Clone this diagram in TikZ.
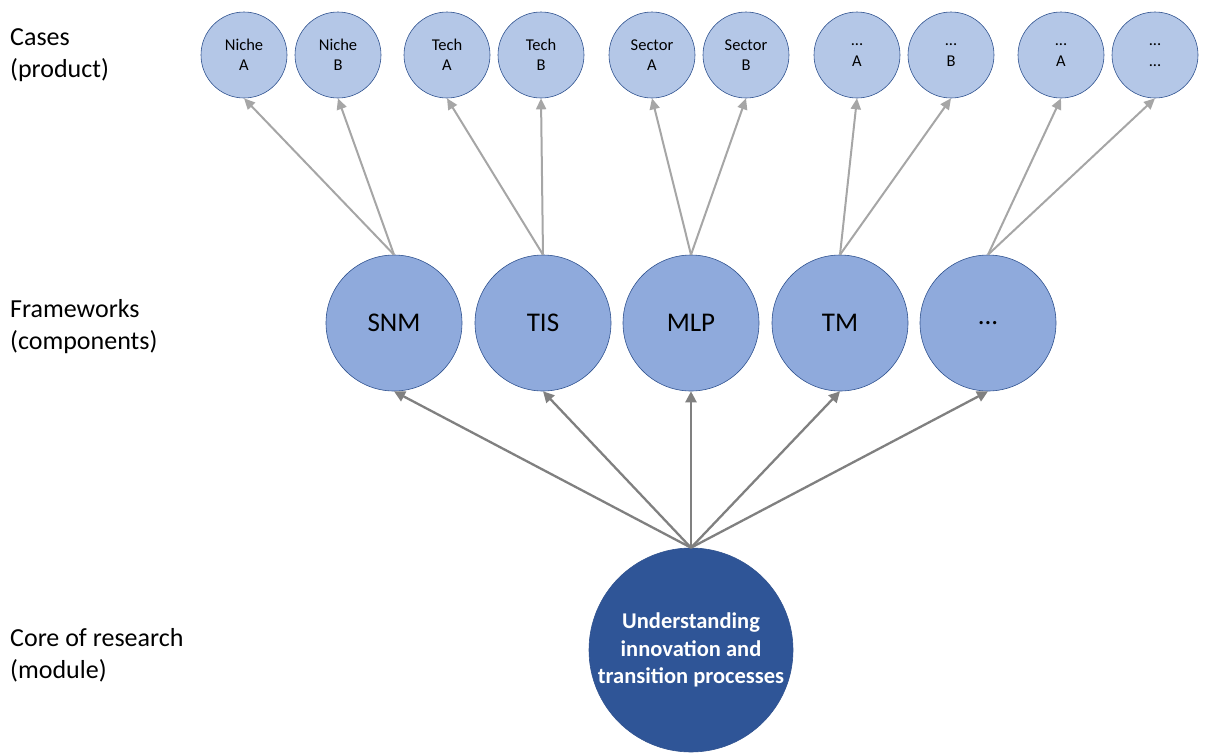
\documentclass[tikz,border=0pt]{standalone}
\usepackage{fontspec}
\setmainfont{Carlito}
\usetikzlibrary{arrows.meta}
\definecolor{caseblue}{HTML}{B4C7E7}
\definecolor{fwblue}{HTML}{8FAADC}
\definecolor{coreblue}{HTML}{2F5597}
\definecolor{rimblue}{HTML}{2F528F}
\definecolor{lightarrow}{HTML}{A6A6A6}
\definecolor{darkarrow}{HTML}{808080}
\begin{document}
\begin{tikzpicture}[x=1pt,y=-1pt,
  casenode/.style={circle,draw=rimblue,line width=0.6pt,fill=caseblue,
    minimum size=86pt,inner sep=0pt,align=center,
    font=\fontsize{16.5}{20.5}\selectfont},
  fwnode/.style={circle,draw=rimblue,line width=0.6pt,fill=fwblue,
    minimum size=136pt,inner sep=0pt,align=center,
    font=\fontsize{27}{32}\selectfont},
  corenode/.style={circle,draw=rimblue,line width=0.6pt,fill=coreblue,
    minimum size=204pt,inner sep=0pt,align=center,text=white,
    font=\fontsize{22.5}{27.5}\selectfont\bfseries},
  levellabel/.style={anchor=west,align=left,inner sep=0pt,
    font=\fontsize{26}{32}\selectfont},
  uparrow/.style={draw=lightarrow,line width=2pt,
    -{Triangle[length=11pt,width=10pt]}},
  fwarrow/.style={draw=darkarrow,line width=2.3pt,
    -{Triangle[length=11pt,width=11pt]}}]
\useasboundingbox (0,0) rectangle (1205,753);

% level labels
\node[levellabel] (lcases) at (10,55) {Cases\\(product)};
\node[levellabel] (lfw) at (10,327) {Frameworks\\(components)};
\node[levellabel] (lcore) at (10,655) {Core of research\\(module)};

% core module
\node[corenode] (core) at (691,650) {Understanding\\innovation and\\transition processes};

% frameworks
\node[fwnode] (snm) at (394,323) {SNM};
\node[fwnode] (tis) at (543,323) {TIS};
\node[fwnode] (mlp) at (691,323) {MLP};
\node[fwnode] (tm)  at (840,323) {TM};
\node[fwnode] (fwx) at (988,323) {...};

% cases
\node[casenode] (nicheA)  at (244,55)  {Niche\\A};
\node[casenode] (nicheB)  at (338,55)  {Niche\\B};
\node[casenode] (techA)   at (447,55)  {Tech\\A};
\node[casenode] (techB)   at (541,55)  {Tech\\B};
\node[casenode] (sectorA) at (652,55)  {Sector\\A};
\node[casenode] (sectorB) at (746,55)  {Sector\\B};
\node[casenode] (tmA)     at (857,55)  {...\\A};
\node[casenode] (tmB)     at (951,55)  {...\\B};
\node[casenode] (xA)      at (1061,55) {...\\A};
\node[casenode] (xB)      at (1155,55) {...\\...};

% core -> frameworks
\foreach \f in {snm,tis,mlp,tm,fwx}
  \draw[fwarrow] (core.north) -- (\f.south);

% frameworks -> cases
\draw[uparrow] (snm.north) -- (nicheA.south);
\draw[uparrow] (snm.north) -- (nicheB.south);
\draw[uparrow] (tis.north) -- (techA.south);
\draw[uparrow] (tis.north) -- (techB.south);
\draw[uparrow] (mlp.north) -- (sectorA.south);
\draw[uparrow] (mlp.north) -- (sectorB.south);
\draw[uparrow] (tm.north)  -- (tmA.south);
\draw[uparrow] (tm.north)  -- (tmB.south);
\draw[uparrow] (fwx.north) -- (xA.south);
\draw[uparrow] (fwx.north) -- (xB.south);
\end{tikzpicture}
\end{document}
